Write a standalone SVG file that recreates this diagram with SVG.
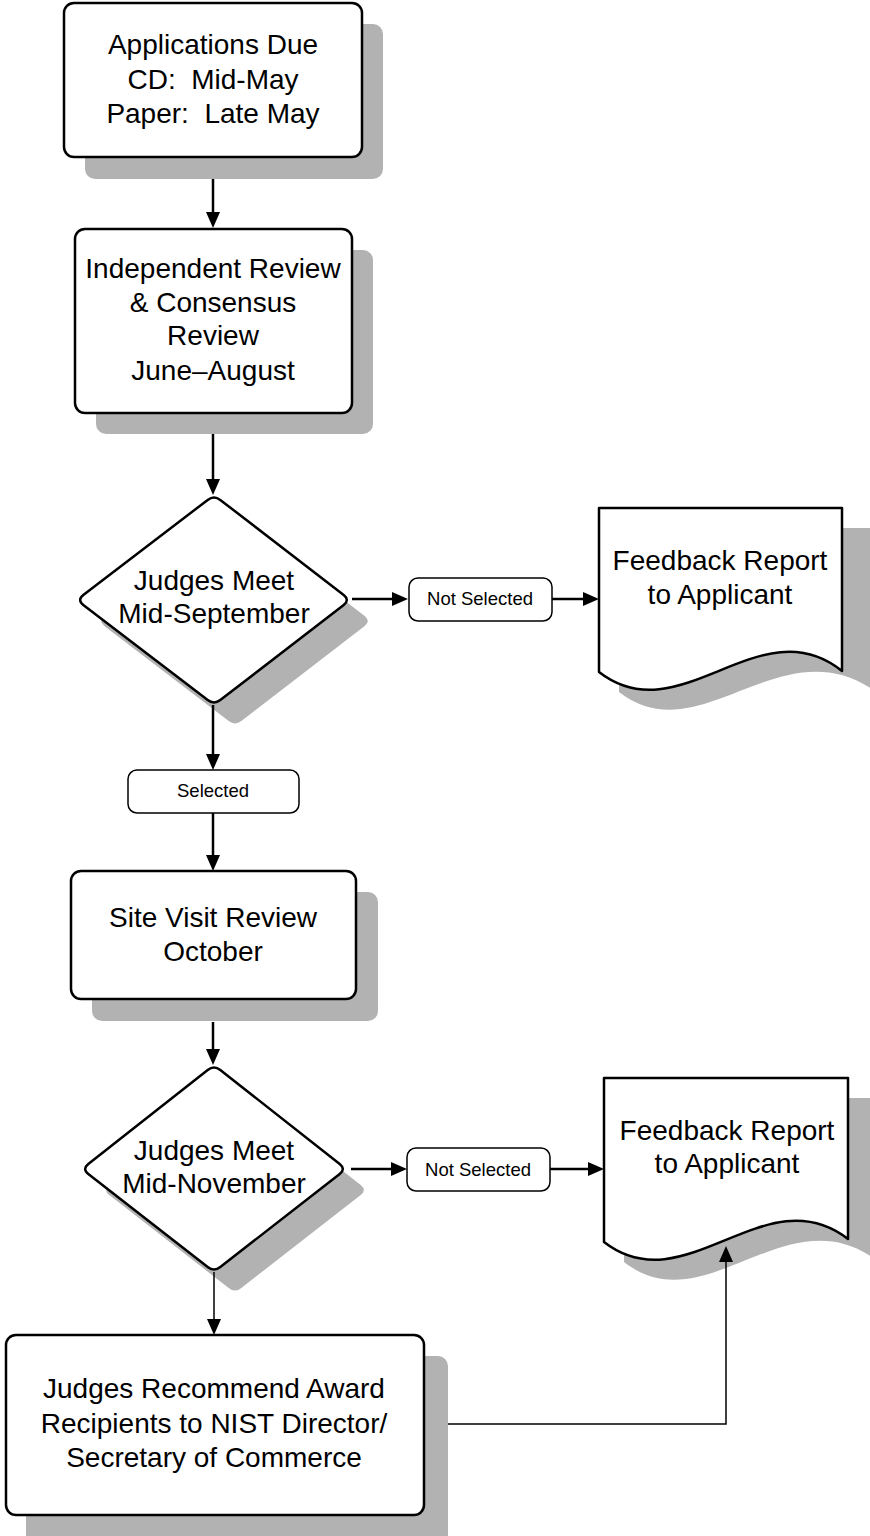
<svg xmlns="http://www.w3.org/2000/svg" width="870" height="1536" viewBox="0 0 870 1536">
<style>
  .shadow { fill: #b2b2b2; stroke: none; }
  .shape { fill: #ffffff; stroke: #000000; stroke-width: 2.5; stroke-linejoin: round; }
  .label { fill: #ffffff; stroke: #000000; stroke-width: 1.5; }
  .big { font-family: "Liberation Sans", Arial, sans-serif; font-size: 28px; fill: #000000; text-anchor: middle; white-space: pre; }
  .small { font-family: "Liberation Sans", Arial, sans-serif; font-size: 18.5px; fill: #000000; text-anchor: middle; }
  .conn { fill: none; stroke: #000000; stroke-width: 2.5; }
  .conn.thin { stroke-width: 1.5; }
</style>
<defs>
  <marker id="ah" markerUnits="userSpaceOnUse" markerWidth="16" markerHeight="14" refX="2" refY="7" orient="auto">
    <path d="M0,0 L16,7 L0,14 Z" fill="#000000"/>
  </marker>
</defs>
<rect width="870" height="1536" fill="#ffffff"/>

<g id="connectors-upper">
  <path class="conn" d="M213,157 V214" marker-end="url(#ah)"/>
  <path class="conn" d="M213,413 V481" marker-end="url(#ah)"/>
</g>

<g id="n1">
  <rect class="shadow" x="85" y="24" width="298" height="155" rx="10"/>
  <rect class="shape" x="64" y="3" width="298" height="154" rx="10"/>
  <text class="big" x="213" y="54">Applications Due</text>
  <text class="big" x="213" y="89" xml:space="preserve">CD:  Mid-May</text>
  <text class="big" x="213" y="123" xml:space="preserve">Paper:  Late May</text>
</g>

<g id="n2">
  <rect class="shadow" x="96" y="250" width="277" height="184" rx="10"/>
  <rect class="shape" x="75" y="229" width="277" height="184" rx="10"/>
  <text class="big" x="213" y="278">Independent Review</text>
  <text class="big" x="213" y="312">&amp; Consensus</text>
  <text class="big" x="213" y="345">Review</text>
  <text class="big" x="213" y="380">June–August</text>
</g>

<g id="d1">
  <path class="shadow" transform="translate(21,21)" d="M83.3,595.1 L207.7,499.9 Q214,495 220.3,499.9 L343.7,595.1 Q350,600 343.7,604.9 L220.3,700.1 Q214,705 207.7,700.1 L83.3,604.9 Q77,600 83.3,595.1 Z"/>
  <path class="shape" d="M83.3,595.1 L207.7,499.9 Q214,495 220.3,499.9 L343.7,595.1 Q350,600 343.7,604.9 L220.3,700.1 Q214,705 207.7,700.1 L83.3,604.9 Q77,600 83.3,595.1 Z"/>
  <text class="big" x="214" y="590">Judges Meet</text>
  <text class="big" x="214" y="623">Mid-September</text>
</g>

<g id="doc1">
  <path class="shadow" d="M619,528 H875 V691 C780,625 700,755 619,692 Z"/>
  <path class="shape" d="M599,508 H842 V671 C760,605 680,735 599,672 Z"/>
  <text class="big" x="720" y="570">Feedback Report</text>
  <text class="big" x="720" y="604">to Applicant</text>
</g>

<g id="connectors-mid">
  <path class="conn" d="M352,599 H394" marker-end="url(#ah)"/>
  <path class="conn" d="M552,599 H585" marker-end="url(#ah)"/>
  <path class="conn" d="M213,705 V756" marker-end="url(#ah)"/>
  <path class="conn" d="M213,813 V857" marker-end="url(#ah)"/>
  <path class="conn" d="M213,1022 V1051" marker-end="url(#ah)"/>
</g>

<g id="lbl-not-selected-1">
  <rect class="label" x="409" y="578" width="143" height="43" rx="9"/>
  <text class="small" x="480" y="605">Not Selected</text>
</g>

<g id="lbl-selected">
  <rect class="label" x="128" y="770" width="171" height="43" rx="9"/>
  <text class="small" x="213" y="797">Selected</text>
</g>

<g id="n3">
  <rect class="shadow" x="92" y="892" width="286" height="129" rx="10"/>
  <rect class="shape" x="71" y="871" width="285" height="128" rx="10"/>
  <text class="big" x="213" y="927">Site Visit Review</text>
  <text class="big" x="213" y="961">October</text>
</g>

<g id="d2">
  <path class="shadow" transform="translate(21,21)" d="M88.3,1164 L207.7,1070 Q214,1065 220.3,1070 L339.7,1164 Q346,1169 339.7,1174 L220.3,1267 Q214,1272 207.7,1267 L88.3,1174 Q82,1169 88.3,1164 Z"/>
  <path class="shape" d="M88.3,1164 L207.7,1070 Q214,1065 220.3,1070 L339.7,1164 Q346,1169 339.7,1174 L220.3,1267 Q214,1272 207.7,1267 L88.3,1174 Q82,1169 88.3,1164 Z"/>
  <text class="big" x="214" y="1160">Judges Meet</text>
  <text class="big" x="214" y="1193">Mid-November</text>
</g>

<g id="doc2">
  <path class="shadow" d="M624,1098 H875 V1259 C785,1195 705,1325 624,1262 Z"/>
  <path class="shape" d="M604,1078 H848 V1239 C765,1175 685,1305 604,1242 Z"/>
  <text class="big" x="727" y="1140">Feedback Report</text>
  <text class="big" x="727" y="1173">to Applicant</text>
</g>

<g id="lbl-not-selected-2">
  <rect class="label" x="407" y="1148" width="143" height="43" rx="9"/>
  <text class="small" x="478" y="1176">Not Selected</text>
</g>

<g id="connectors-lower">
  <path class="conn" d="M351,1169 H393" marker-end="url(#ah)"/>
  <path class="conn" d="M550,1169 H590" marker-end="url(#ah)"/>
  <path class="conn thin" d="M214,1272 V1321" marker-end="url(#ah)"/>
  <path class="conn thin" d="M424,1424 H726 V1260" marker-end="url(#ah)"/>
</g>

<g id="n4">
  <rect class="shadow" x="26" y="1356" width="422" height="190" rx="10"/>
  <rect class="shape" x="6" y="1335" width="418" height="180" rx="10"/>
  <text class="big" x="214" y="1398">Judges Recommend Award</text>
  <text class="big" x="214" y="1433">Recipients to NIST Director/</text>
  <text class="big" x="214" y="1467">Secretary of Commerce</text>
</g>
</svg>
